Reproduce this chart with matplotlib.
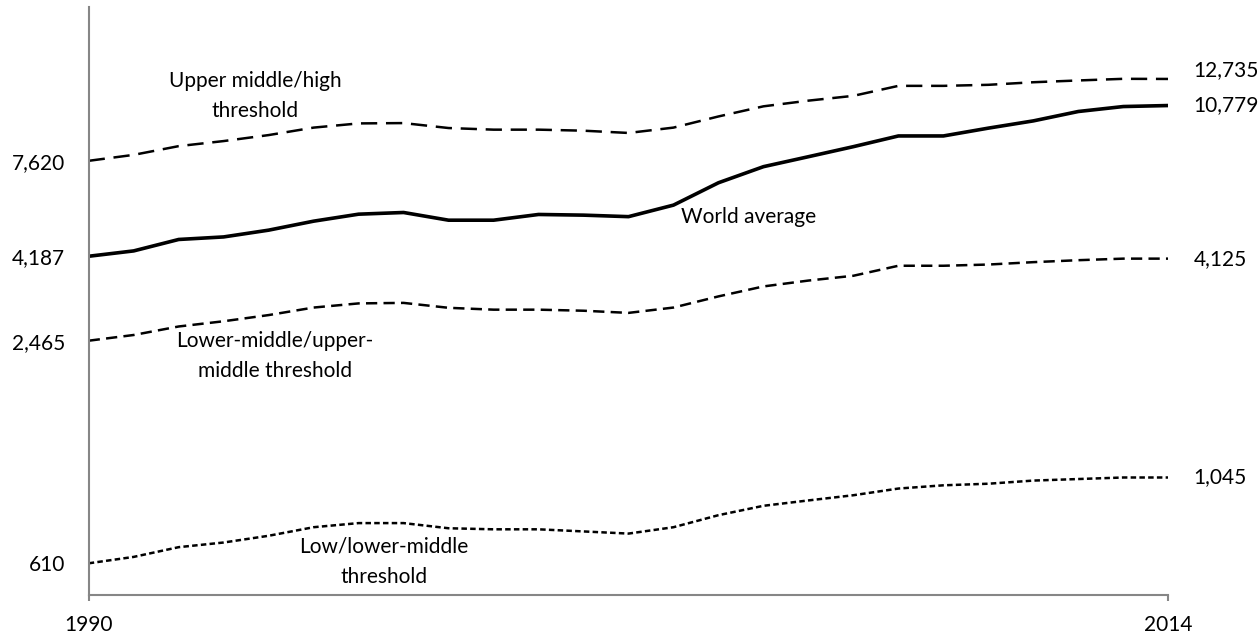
import matplotlib.pyplot as plt
import numpy as np

# GNI per capita thresholds and world average, 1990-2014 (log scale)
years = np.arange(1990, 2015)
world_avg = [4187, 4330, 4652, 4727, 4932, 5218, 5452, 5510, 5250, 5250,
             5442, 5419, 5368, 5771, 6640, 7345, 7819, 8328, 8906, 8906,
             9354, 9789, 10383, 10711, 10779]
upper_high = [7620, 7910, 8355, 8625, 8955, 9385, 9635, 9655, 9360, 9265,
              9265, 9205, 9075, 9385, 10065, 10725, 11115, 11455, 12195, 12195,
              12275, 12475, 12615, 12745, 12735]
lower_upper = [2465, 2555, 2695, 2785, 2895, 3035, 3115, 3125, 3030, 2995,
               2995, 2975, 2935, 3035, 3255, 3465, 3595, 3705, 3945, 3945,
               3975, 4035, 4085, 4125, 4125]
low_lower = [610, 635, 675, 695, 725, 765, 785, 785, 760, 755,
             755, 745, 735, 765, 825, 875, 905, 935, 975, 995,
             1005, 1025, 1035, 1045, 1045]

plt.rcParams['font.family'] = ['Lato', 'DejaVu Sans']
FS = 15

fig = plt.figure(figsize=(12.6, 6.36), dpi=100)
ax = fig.add_axes([88.7/1260, 1-595/636, (1168.3-88.7)/1260, (595-7)/636])

ax.plot(years, upper_high, color='black', lw=1.8, dashes=(6.5, 3.5))
ax.plot(years, world_avg, color='black', lw=2.6, solid_joinstyle='round')
ax.plot(years, lower_upper, color='black', lw=1.8, dashes=(4.5, 2.5))
ax.plot(years, low_lower, color='black', lw=1.8, dashes=(2.2, 1.3))

ax.set_yscale('log')
ax.set_ylim(500, 20000)
ax.set_xlim(1990, 2014)

# axis styling
for s in ['top', 'right']:
    ax.spines[s].set_visible(False)
for s in ['left', 'bottom']:
    ax.spines[s].set_color('#868686')
    ax.spines[s].set_linewidth(1.5)

ax.set_xticks([1990, 2014])
ax.set_xticklabels(['1990', '2014'], fontsize=FS)
ax.tick_params(axis='x', length=4.5, width=1.5, color='#868686', pad=10)

starts = [upper_high[0], world_avg[0], lower_upper[0], low_lower[0]]
ax.yaxis.set_minor_locator(plt.NullLocator())
ax.set_yticks(starts)
ax.set_yticklabels(['{:,}'.format(v) for v in starts], fontsize=FS)
ax.tick_params(axis='y', length=0, pad=17)

# end values on the right
ends = [(upper_high[-1], 9), (world_avg[-1], 0), (lower_upper[-1], 0), (low_lower[-1], 0)]
for v, dy in ends:
    ax.annotate('{:,}'.format(v), xy=(years[-1], v), xytext=(25, dy),
                textcoords='offset pixels', ha='left', va='center', fontsize=FS)

# series labels
ax.text(255/1260, 1-96/636, 'Upper middle/high\nthreshold', transform=fig.transFigure,
        ha='center', va='center', fontsize=FS, linespacing=1.65)
ax.text(681/1260, 1-217/636, 'World average', transform=fig.transFigure,
        ha='left', va='center', fontsize=FS)
ax.text(275/1260, 1-356/636, 'Lower-middle/upper-\nmiddle threshold', transform=fig.transFigure,
        ha='center', va='center', fontsize=FS, linespacing=1.65)
ax.text(384/1260, 1-562/636, 'Low/lower-middle\nthreshold', transform=fig.transFigure,
        ha='center', va='center', fontsize=FS, linespacing=1.65)

fig.savefig('out.png', dpi=100)
